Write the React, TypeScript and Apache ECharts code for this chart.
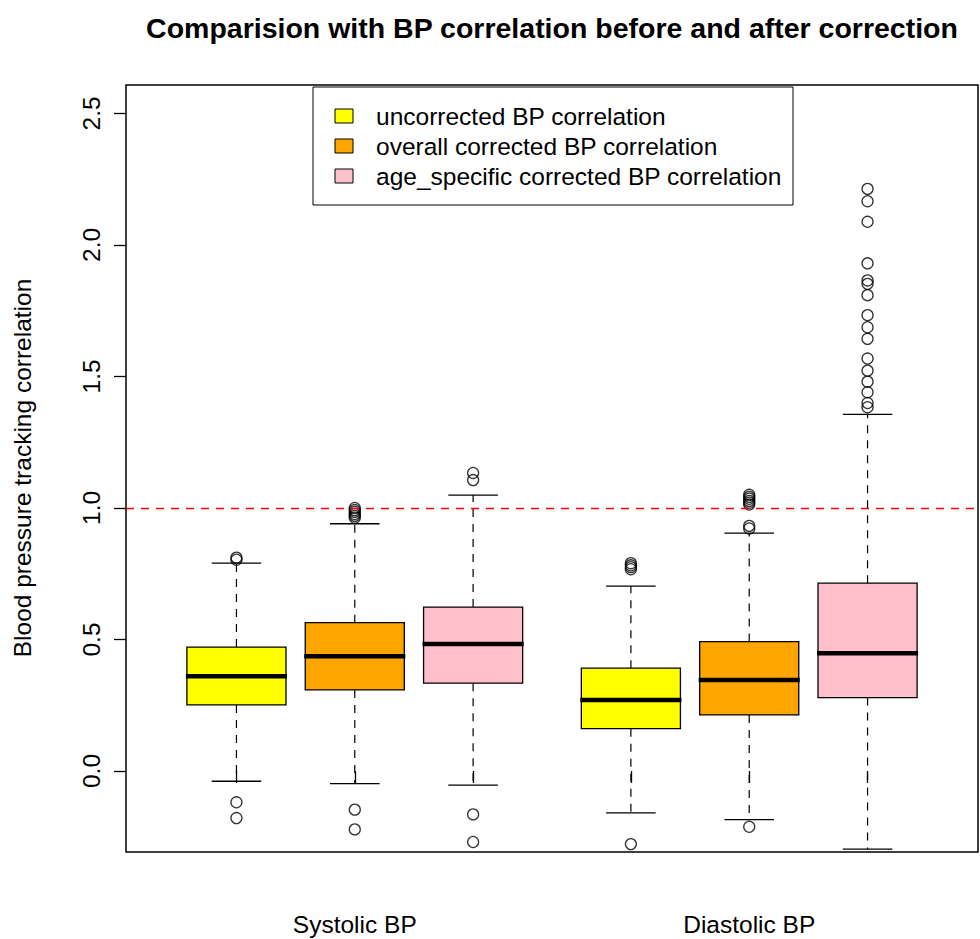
import React, { useEffect, useRef } from "react";
import * as echarts from "echarts";

// Groups along the x axis
const groupLabels = ["Systolic BP", "Diastolic BP"];
const groupCenters = [1.75, 4.25];

// Correction methods (one box per group each)
const methodNames = [
  "uncorrected BP correlation",
  "overall corrected BP correlation",
  "age_specific corrected BP correlation",
];
const methodColors = ["#FFFF00", "#FFA500", "#FFC0CB"];

// Box positions on the x scale: [systolic, diastolic]
const uncorrectedPos = [1, 3.5];
const overallPos = [1.75, 4.25];
const ageSpecificPos = [2.5, 5];
const tickPositions = [1, 1.75, 2.5, 3.5, 4.25, 5];

// Five-number summaries: [lower whisker, Q1, median, Q3, upper whisker]
const uncorrectedStats = [
  [-0.039, 0.251, 0.36, 0.471, 0.79],
  [-0.159, 0.161, 0.27, 0.391, 0.703],
];
const overallStats = [
  [-0.048, 0.308, 0.436, 0.564, 0.94],
  [-0.185, 0.213, 0.346, 0.492, 0.904],
];
const ageSpecificStats = [
  [-0.054, 0.334, 0.483, 0.623, 1.049],
  [-0.297, 0.279, 0.448, 0.714, 1.356],
];

// Points beyond the whiskers
const uncorrectedOutliers = [
  [0.811, 0.803, -0.119, -0.179],
  [0.79, 0.782, 0.775, 0.767, -0.278],
];
const overallOutliers = [
  [1.0, 0.992, 0.985, 0.977, 0.97, 0.963, -0.147, -0.222],
  [1.05, 1.042, 1.035, 1.027, 1.02, 1.013, 0.932, 0.922, -0.212],
];
const ageSpecificOutliers = [
  [1.133, 1.106, -0.165, -0.27],
  [
    2.213, 2.166, 2.088, 1.93, 1.865, 1.852, 1.809, 1.733, 1.687, 1.643, 1.568,
    1.522, 1.48, 1.44, 1.399, 1.383,
  ],
];

const yTicks = [0, 0.5, 1, 1.5, 2, 2.5];
const referenceValue = 1.0;

const FONT = "'Liberation Sans', Arial, Helvetica, sans-serif";
const TEXT_SIZE = 24.5;
const TITLE_SIZE = 28.5;
const BOX_HALF = 0.314;

const positionsByMethod = [uncorrectedPos, overallPos, ageSpecificPos];
const statsByMethod = [uncorrectedStats, overallStats, ageSpecificStats];
const outliersByMethod = [uncorrectedOutliers, overallOutliers, ageSpecificOutliers];

const renderBox = (params: any, api: any) => {
  const x = api.value(0);
  const low = api.coord([x, api.value(1)]);
  const q1 = api.coord([x, api.value(2)]);
  const med = api.coord([x, api.value(3)]);
  const q3 = api.coord([x, api.value(4)]);
  const high = api.coord([x, api.value(5)]);
  const halfW = api.size([BOX_HALF, 0])[0];
  const capW = halfW / 2;
  const cx = low[0];
  const fill = api.visual("color");
  const dashed = { stroke: "#000", lineWidth: 1.2, lineDash: [8, 7], fill: null };
  const solid = { stroke: "#000", lineWidth: 1.3, fill: null };
  return {
    type: "group",
    children: [
      { type: "line", shape: { x1: cx, y1: q3[1], x2: cx, y2: high[1] }, style: dashed },
      { type: "line", shape: { x1: cx, y1: q1[1], x2: cx, y2: low[1] }, style: dashed },
      { type: "line", shape: { x1: cx - capW, y1: high[1], x2: cx + capW, y2: high[1] }, style: solid },
      { type: "line", shape: { x1: cx - capW, y1: low[1], x2: cx + capW, y2: low[1] }, style: solid },
      {
        type: "rect",
        shape: { x: cx - halfW, y: q3[1], width: halfW * 2, height: q1[1] - q3[1] },
        style: { fill, stroke: "#000", lineWidth: 1.3 },
      },
      {
        type: "line",
        shape: { x1: cx - halfW - 1, y1: med[1], x2: cx + halfW + 1, y2: med[1] },
        style: { stroke: "#000", lineWidth: 4.5, fill: null },
      },
    ],
  };
};

export default function App() {
  const ref = useRef<HTMLDivElement>(null);

  useEffect(() => {
    if (!ref.current) return;
    const chart = echarts.init(ref.current, undefined, { renderer: "svg" });

    const boxSeries = methodNames.map((name, m) => ({
      name,
      type: "custom",
      renderItem: renderBox,
      itemStyle: { color: methodColors[m] },
      encode: { x: 0, y: [1, 2, 3, 4, 5] },
      data: statsByMethod[m].map((s, g) => [positionsByMethod[m][g], ...s]),
      z: 2,
    }));

    const outlierData: number[][] = [];
    outliersByMethod.forEach((groups, m) =>
      groups.forEach((vals, g) =>
        vals.forEach((v) => outlierData.push([positionsByMethod[m][g], v]))
      )
    );

    const legendTop = 87;
    const legendRowGap = 30;
    const legendGraphics: any[] = [
      {
        type: "rect",
        shape: { x: 313, y: legendTop, width: 480, height: 118 },
        style: { fill: "#fff", stroke: "#000", lineWidth: 1 },
        z: 10,
      },
    ];
    methodNames.forEach((name, i) => {
      const cy = legendTop + 29 + i * legendRowGap;
      legendGraphics.push({
        type: "rect",
        shape: { x: 335, y: cy - 7, width: 18, height: 14 },
        style: { fill: methodColors[i], stroke: "#000", lineWidth: 1 },
        z: 11,
      });
      legendGraphics.push({
        type: "text",
        x: 376,
        y: cy,
        style: {
          text: name,
          font: `${TEXT_SIZE}px ${FONT}`,
          fill: "#000",
          textAlign: "left",
          textVerticalAlign: "middle",
        },
        z: 11,
      });
    });

    chart.setOption({
      animation: false,
      backgroundColor: "#fff",
      textStyle: { fontFamily: FONT },
      title: {
        text: "Comparision with BP correlation before and after correction",
        left: 547,
        top: 8,
        textAlign: "center",
        textStyle: { fontSize: TITLE_SIZE, fontWeight: "bold", color: "#000", fontFamily: FONT },
      },
      grid: {
        left: 126,
        top: 85,
        width: 852,
        height: 767,
        show: true,
        borderColor: "#000",
        borderWidth: 1.5,
        backgroundColor: "transparent",
      },
      xAxis: {
        type: "value",
        min: 0.3,
        max: 5.7,
        splitLine: { show: false },
        axisLine: { show: false },
        axisTick: {
          show: true,
          inside: false,
          length: 12,
          customValues: tickPositions,
          lineStyle: { color: "#000", width: 1.3 },
        },
        axisLabel: {
          customValues: groupCenters,
          formatter: (v: number) => {
            const idx = groupCenters.findIndex((c) => Math.abs(c - v) < 1e-6);
            return idx >= 0 ? groupLabels[idx] : "";
          },
          margin: 60,
          fontSize: TEXT_SIZE,
          color: "#000",
          fontFamily: FONT,
        },
      },
      yAxis: {
        type: "value",
        min: -0.308,
        max: 2.608,
        splitLine: { show: false },
        axisLine: { show: false },
        axisTick: {
          show: true,
          inside: false,
          length: 12,
          customValues: yTicks,
          lineStyle: { color: "#000", width: 1.3 },
        },
        axisLabel: {
          customValues: yTicks,
          formatter: (v: number) => v.toFixed(1),
          rotate: 90,
          margin: 22,
          fontSize: TEXT_SIZE,
          color: "#000",
          fontFamily: FONT,
        },
      },
      graphic: [
        {
          type: "text",
          x: 22,
          y: 468,
          rotation: Math.PI / 2,
          style: {
            text: "Blood pressure tracking correlation",
            font: `${TEXT_SIZE}px ${FONT}`,
            fill: "#000",
            textAlign: "center",
            textVerticalAlign: "middle",
          },
        },
        ...legendGraphics,
      ],
      series: [
        ...boxSeries,
        {
          name: "outliers",
          type: "scatter",
          symbol: "circle",
          symbolSize: 11,
          itemStyle: { color: "rgba(0,0,0,0)", borderColor: "#000", borderWidth: 1.3 },
          data: outlierData,
          z: 3,
          markLine: {
            silent: true,
            symbol: ["none", "none"],
            label: { show: false },
            lineStyle: { color: "#FF0000", type: [8, 7], width: 1.3 },
            data: [{ yAxis: referenceValue }],
          },
        },
      ],
    });

    return () => chart.dispose();
  }, []);

  return (
    <div
      ref={ref}
      style={{ position: "absolute", left: 0, top: 0, width: 980, height: 939 }}
    />
  );
}
